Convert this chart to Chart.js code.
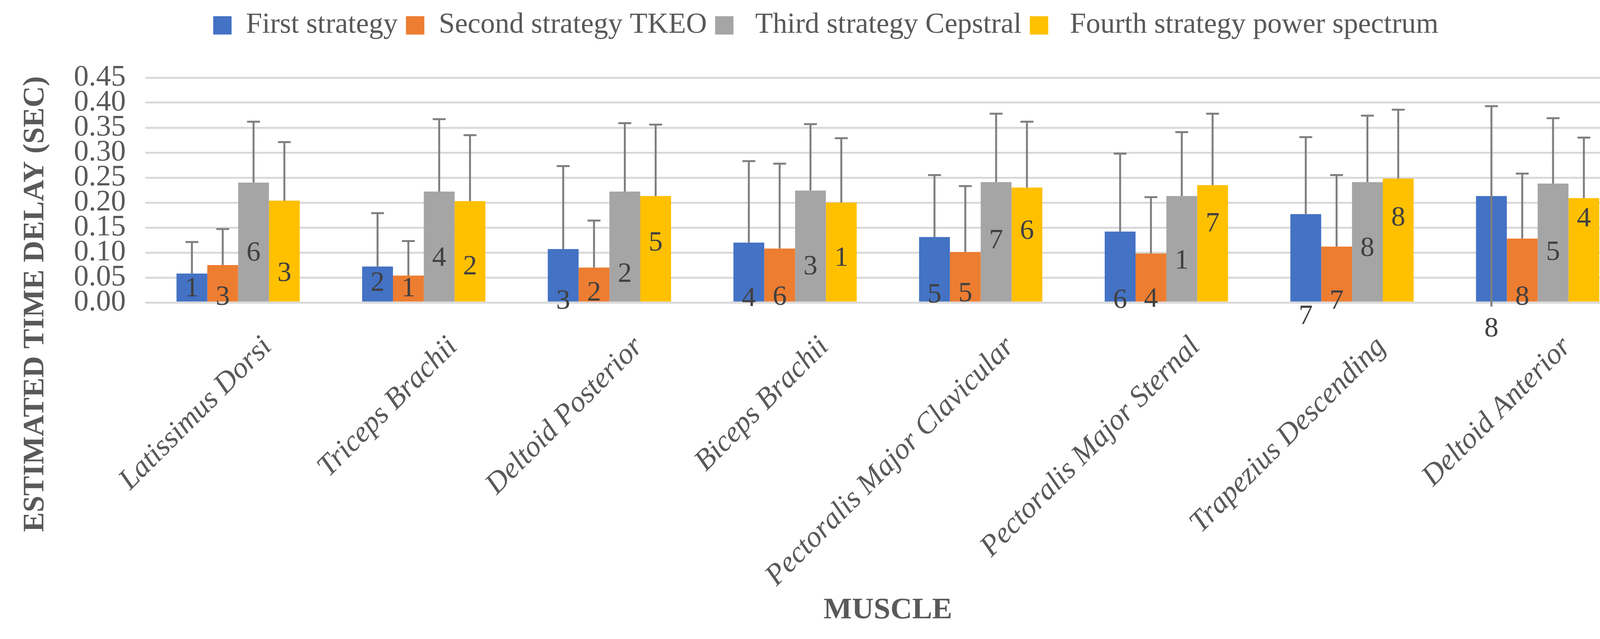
<!DOCTYPE html>
<html>
<head>
<meta charset="utf-8">
<title>Estimated time delay per muscle</title>
<script src="https://cdn.jsdelivr.net/npm/chart.js@4.4.1/dist/chart.umd.min.js"></script>
<style>
    html, body { margin: 0; padding: 0; background: #fff; }
    #wrap { width: 4206px; height: 1637px; }
</style>
</head>
<body>
<div id="wrap"><canvas id="delayChart"></canvas></div>
<script>
var MUSCLES = ['Latissimus Dorsi', 'Triceps Brachii', 'Deltoid Posterior', 'Biceps Brachii',
               'Pectoralis Major Clavicular', 'Pectoralis Major Sternal', 'Trapezius Descending', 'Deltoid Anterior'];
var STRATEGIES = ['First strategy', 'Second strategy TKEO', ' Third strategy Cepstral', ' Fourth strategy power spectrum'];

// mean delay (sec)
var FIRST  = [0.058, 0.072, 0.107, 0.120, 0.131, 0.142, 0.177, 0.213];
var SECOND = [0.075, 0.054, 0.070, 0.108, 0.101, 0.098, 0.112, 0.128];
var THIRD  = [0.240, 0.222, 0.222, 0.224, 0.241, 0.213, 0.241, 0.238];
var FOURTH = [0.204, 0.203, 0.213, 0.200, 0.230, 0.235, 0.248, 0.209];

// error bars (plus side)
var FIRST_ERR  = [0.063, 0.107, 0.166, 0.163, 0.124, 0.156, 0.154, 0.180];
var SECOND_ERR = [0.072, 0.069, 0.094, 0.170, 0.132, 0.113, 0.143, 0.130];
var THIRD_ERR  = [0.122, 0.145, 0.137, 0.133, 0.137, 0.128, 0.133, 0.131];
var FOURTH_ERR = [0.117, 0.132, 0.143, 0.129, 0.132, 0.143, 0.138, 0.121];
// only one bar has its line running down (through the bar, just past zero)
var FIRST_ERR_DOWN = [0, 0, 0, 0, 0, 0, 0, 0.221];
var NO_ERR_DOWN    = [0, 0, 0, 0, 0, 0, 0, 0];

// rank printed on each bar + the value it sits at
var FIRST_RANK  = [1, 2, 3, 4, 5, 6, 7, 8];
var SECOND_RANK = [3, 1, 2, 6, 5, 4, 7, 8];
var THIRD_RANK  = [6, 4, 2, 3, 7, 1, 8, 5];
var FOURTH_RANK = [3, 2, 5, 1, 6, 7, 8, 4];
var FIRST_RANK_AT  = [0.027, 0.038, 0.002, 0.008, 0.015, 0.004, -0.028, -0.053];
var SECOND_RANK_AT = [0.010, 0.027, 0.019, 0.010, 0.017, 0.006, 0.002, 0.010];
var THIRD_RANK_AT  = [0.098, 0.088, 0.056, 0.071, 0.123, 0.083, 0.108, 0.100];
var FOURTH_RANK_AT = [0.058, 0.071, 0.119, 0.088, 0.142, 0.157, 0.169, 0.167];

var COLORS = ['#4472C4', '#ED7D31', '#A5A5A5', '#FFC000'];
var TEXT_GREY = '#595959';

Chart.defaults.font.family = '"Liberation Serif", "Times New Roman", serif';

// push the plot down away from the legend
var legendGap = {
    id: 'legendGap',
    beforeInit: function(chart) {
        var fit = chart.legend.fit;
        chart.legend.fit = function() {
            fit.call(this);
            this.height += 87;
        };
    }
};

var errorBars = {
    id: 'errorBars',
    afterDatasetsDraw: function(chart) {
        var ctx = chart.ctx, y = chart.scales.y;
        ctx.save();
        ctx.strokeStyle = '#7F7F7F';
        ctx.lineWidth = 5;
        chart.data.datasets.forEach(function(ds, i) {
            chart.getDatasetMeta(i).data.forEach(function(bar, j) {
                var top = y.getPixelForValue(ds.data[j] + ds.errUp[j]);
                var bottom = y.getPixelForValue(ds.data[j] - ds.errDown[j]);
                ctx.beginPath();
                ctx.moveTo(bar.x, bottom);
                ctx.lineTo(bar.x, top);
                ctx.moveTo(bar.x - 16.5, top);
                ctx.lineTo(bar.x + 16.5, top);
                ctx.stroke();
            });
        });
        ctx.restore();
    }
};

var rankLabels = {
    id: 'rankLabels',
    afterDraw: function(chart) {
        var ctx = chart.ctx, y = chart.scales.y;
        ctx.save();
        ctx.font = '72px "Liberation Serif"';
        ctx.fillStyle = '#404040';
        ctx.textAlign = 'center';
        ctx.textBaseline = 'middle';
        chart.data.datasets.forEach(function(ds, i) {
            chart.getDatasetMeta(i).data.forEach(function(bar, j) {
                ctx.fillText(String(ds.rank[j]), bar.x, y.getPixelForValue(ds.rankAt[j]));
            });
        });
        ctx.restore();
    }
};

// y title sits lower than the axis middle in the original
var yTitle = {
    id: 'yTitle',
    afterDraw: function(chart) {
        var ctx = chart.ctx;
        ctx.save();
        ctx.translate(91, chart.chartArea.bottom + 4);
        ctx.rotate(-Math.PI / 2);
        ctx.font = 'bold 76px "Liberation Serif"';
        ctx.fillStyle = TEXT_GREY;
        ctx.textAlign = 'center';
        ctx.textBaseline = 'middle';
        ctx.fillText('ESTIMATED TIME DELAY (SEC)', 0, 0);
        ctx.restore();
    }
};

function series(i, data, err, errDown, rank, rankAt) {
    return {
        label: STRATEGIES[i], data: data, backgroundColor: COLORS[i], borderWidth: 0,
        errUp: err, errDown: errDown, rank: rank, rankAt: rankAt
    };
}

new Chart(document.getElementById('delayChart'), {
    type: 'bar',
    data: {
        labels: MUSCLES,
        datasets: [
            series(0, FIRST, FIRST_ERR, FIRST_ERR_DOWN, FIRST_RANK, FIRST_RANK_AT),
            series(1, SECOND, SECOND_ERR, NO_ERR_DOWN, SECOND_RANK, SECOND_RANK_AT),
            series(2, THIRD, THIRD_ERR, NO_ERR_DOWN, THIRD_RANK, THIRD_RANK_AT),
            series(3, FOURTH, FOURTH_ERR, NO_ERR_DOWN, FOURTH_RANK, FOURTH_RANK_AT)
        ]
    },
    options: {
        responsive: true,
        maintainAspectRatio: false,
        devicePixelRatio: 1,
        animation: false,
        layout: { padding: { left: 54, right: 32, top: 7, bottom: 0 } },
        datasets: { bar: { categoryPercentage: 0.664, barPercentage: 1 } },
        plugins: {
            legend: {
                position: 'top',
                labels: { color: TEXT_GREY, font: { size: 74 }, boxWidth: 47, boxHeight: 47, padding: 21 }
            },
            tooltip: { enabled: false }
        },
        scales: {
            x: {
                grid: { display: false },
                border: { display: false },
                ticks: {
                    autoSkip: false, minRotation: 45, maxRotation: 45,
                    labelOffset: 75, padding: 62,
                    color: TEXT_GREY, font: { size: 76, style: 'italic' }
                },
                title: {
                    display: true, text: 'MUSCLE', color: TEXT_GREY,
                    font: { size: 77, weight: 'bold' }, padding: { top: 0, bottom: 27 }
                },
                afterFit: function(scale) { scale.height = 862; }
            },
            y: {
                min: 0, max: 0.45,
                grid: { color: '#D9D9D9', lineWidth: 5, drawTicks: false },
                border: { display: false },
                ticks: {
                    stepSize: 0.05, autoSkip: false, padding: 50,
                    color: TEXT_GREY, font: { size: 76 },
                    callback: function(v) { return v.toFixed(2); }
                },
                afterFit: function(scale) { scale.width = 318; }
            }
        }
    },
    plugins: [legendGap, errorBars, rankLabels, yTitle]
});
</script>
</body>
</html>
